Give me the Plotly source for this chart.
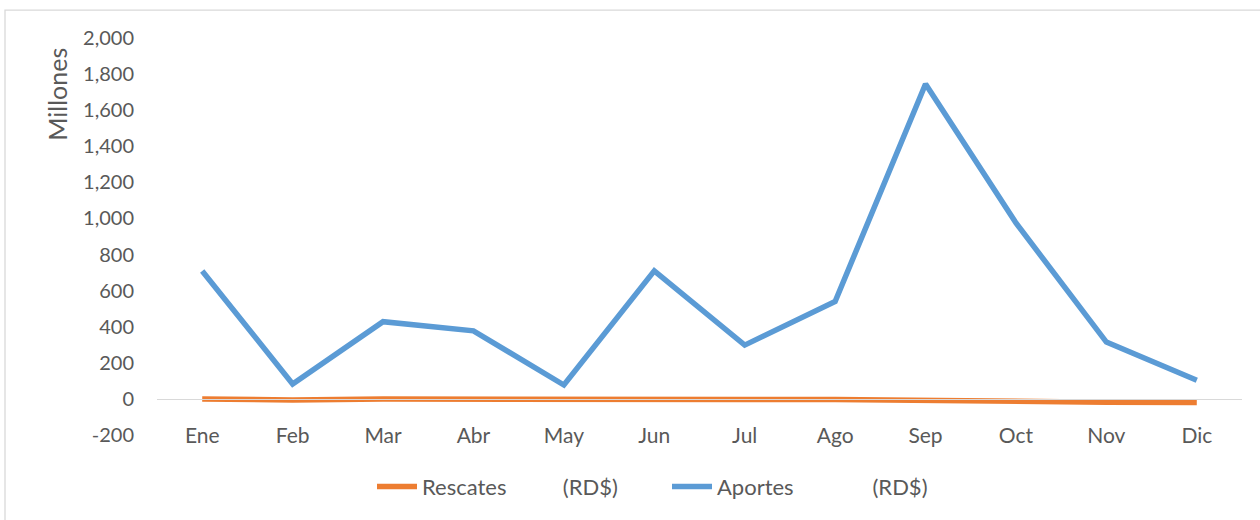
import plotly.graph_objects as go

meses = ["Ene", "Feb", "Mar", "Abr", "May", "Jun", "Jul", "Ago", "Sep", "Oct", "Nov", "Dic"]
rescates = [0, -6, -1, -3, -6, -3, -3, -3, -10, -12, -18, -20]
aportes = [709, 83, 428, 377, 77, 710, 298, 540, 1745, 975, 315, 103]
y_ticks = [-200, 0, 200, 400, 600, 800, 1000, 1200, 1400, 1600, 1800, 2000]
y_labels = [f"{v:,}" for v in y_ticks]

FONT = "Lato, 'Open Sans', sans-serif"
GREY = "#595959"
NB = "\u00a0"

fig = go.Figure()
fig.add_trace(go.Scatter(
    x=list(range(len(meses))), y=rescates, mode="lines",
    name="Rescates" + NB * 10 + "(RD$)",
    line=dict(color="#ED7D31", width=5.5),
))
fig.add_trace(go.Scatter(
    x=list(range(len(meses))), y=aportes, mode="lines",
    name="Aportes" + NB * 14 + "(RD$)",
    line=dict(color="#5B9BD5", width=5.5),
))

fig.update_layout(
    width=1260, height=520,
    margin=dict(l=157, r=18, t=38, b=83),
    paper_bgcolor="white", plot_bgcolor="white",
    font=dict(family=FONT, size=20, color=GREY),
    showlegend=True,
    legend=dict(orientation="h", x=(372 - 157) / 1085, xanchor="left",
                y=(437 - 489) / 399, yanchor="middle",
                font=dict(size=22, color=GREY), itemwidth=40,
                entrywidth=240, entrywidthmode="pixels", tracegroupgap=0),
    xaxis=dict(
        tickmode="array", tickvals=list(range(len(meses))), ticktext=meses,
        range=[-0.5, 11.5], showgrid=False, zeroline=False,
        showline=True, linecolor="#d9d9d9", linewidth=1.3,
        anchor="free", position=36 / 399, ticks="", ticklabelstandoff=17,
        tickfont=dict(size=21),
    ),
    yaxis=dict(
        range=[-200, 2000], tickmode="array", tickvals=y_ticks, ticktext=y_labels,
        showgrid=False, zeroline=False, showline=False, ticks="",
        ticklabelstandoff=22, tickfont=dict(size=20),
    ),
    shapes=[dict(type="rect", xref="paper", yref="paper",
                 x0=(5 - 157) / 1085, x1=(1266 - 157) / 1085,
                 y0=(437 - 526) / 399, y1=(437 - 10) / 399,
                 line=dict(color="#d9d9d9", width=1.3), fillcolor="rgba(0,0,0,0)")],
    annotations=[dict(text="Millones", xref="paper", yref="paper",
                      x=(57 - 157) / 1085, y=(437 - 95) / 399, textangle=-90,
                      showarrow=False, font=dict(size=25, color=GREY),
                      xanchor="center", yanchor="middle")],
)

fig.write_html("out.html", config={"displayModeBar": False},
               post_script="document.body.style.margin='0px';")
